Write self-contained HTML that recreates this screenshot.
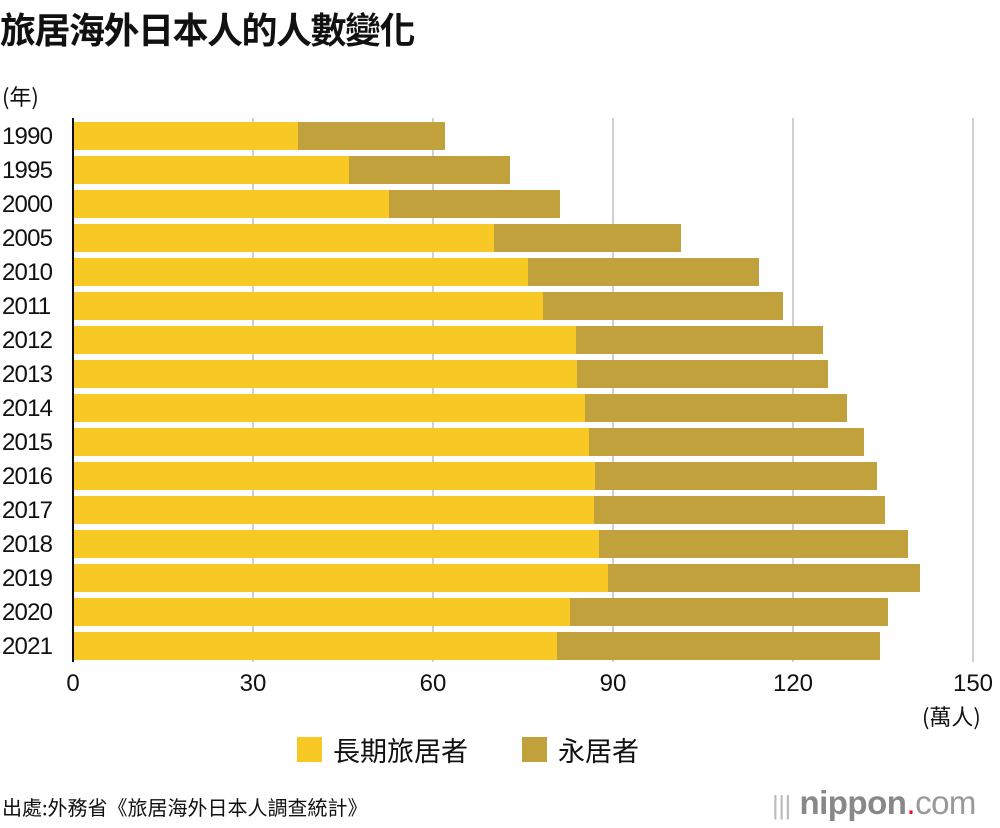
<!DOCTYPE html><html><head><meta charset="utf-8"><style>
body{margin:0;width:1000px;height:828px;background:#fff;position:relative;overflow:hidden;font-family:"Liberation Sans","Noto Sans CJK TC",sans-serif;color:#111}
.a{position:absolute;white-space:nowrap}
.g{position:absolute;top:118px;height:544px;width:2px;background:#d0d0d0}
.y{position:absolute;left:2px;font-size:24px;width:60px;letter-spacing:-0.8px}
.t{position:absolute;top:670px;font-size:24px;width:60px;text-align:center}
</style></head><body>
<div class="a" style="left:0;top:2px;font-size:36px;font-weight:bold;font-family:'Noto Sans CJK TC',sans-serif;letter-spacing:-1.5px">旅居海外日本人的人數變化</div>
<div class="a" style="left:2px;top:80px;font-size:22px;font-family:'Noto Sans CJK TC',sans-serif">(年)</div>
<div class="g" style="left:252px"></div><div class="g" style="left:432px"></div><div class="g" style="left:612px"></div><div class="g" style="left:792px"></div><div class="g" style="left:972px"></div>
<svg class="a" style="left:0;top:0" width="1000" height="700" id="s"></svg>
<div class="a" style="left:72px;top:118px;width:2px;height:544px;background:#111"></div>
<div id="labs"></div>
<div class="t" style="left:43px">0</div><div class="t" style="left:223px">30</div><div class="t" style="left:403px">60</div><div class="t" style="left:583px">90</div><div class="t" style="left:763px">120</div><div class="t" style="left:943px">150</div>
<div class="a" style="left:922px;top:700px;font-size:22px;font-family:'Noto Sans CJK TC',sans-serif">(萬人)</div>
<div class="a" style="left:297px;top:737px;width:25px;height:25px;background:#f8c924"></div>
<div class="a" style="left:333px;top:730px;font-size:27px;font-family:'Noto Sans CJK TC',sans-serif">長期旅居者</div>
<div class="a" style="left:522px;top:737px;width:25px;height:25px;background:#c0a13b"></div>
<div class="a" style="left:558px;top:730px;font-size:27px;font-family:'Noto Sans CJK TC',sans-serif">永居者</div>
<div class="a" style="left:2px;top:792px;font-size:20px;font-family:'Noto Sans CJK TC',sans-serif">出處:外務省《旅居海外日本人調查統計》</div>
<div class="a" style="left:772px;top:784px;font-size:33px;color:#888;letter-spacing:-0.5px"><span style="color:#bbb;font-size:26px">|||</span> <b style="color:#888">nippon</b><span style="color:#e0182c">.</span><span style="color:#999">com</span></div>
<script>
var d=[["1990",298,445],["1995",349,510],["2000",389,560],["2005",494,681],["2010",528,759],["2011",543,783],["2012",576,823],["2013",577,828],["2014",585,847],["2015",589,864],["2016",595,877],["2017",594,885],["2018",599,908],["2019",608,920],["2020",570,888],["2021",557,880]];
var s="",l="";
d.forEach(function(r,i){var y=122+i*34;
s+='<rect x="73" y="'+y+'" width="'+(r[1]-73)+'" height="28" fill="#f8c924"/><rect x="'+r[1]+'" y="'+y+'" width="'+(r[2]-r[1])+'" height="28" fill="#c0a13b"/>';
l+='<div class="y" style="top:'+(y+1)+'px">'+r[0]+'</div>';});
document.getElementById("s").innerHTML=s;document.getElementById("labs").innerHTML=l;
</script>
</body></html>
